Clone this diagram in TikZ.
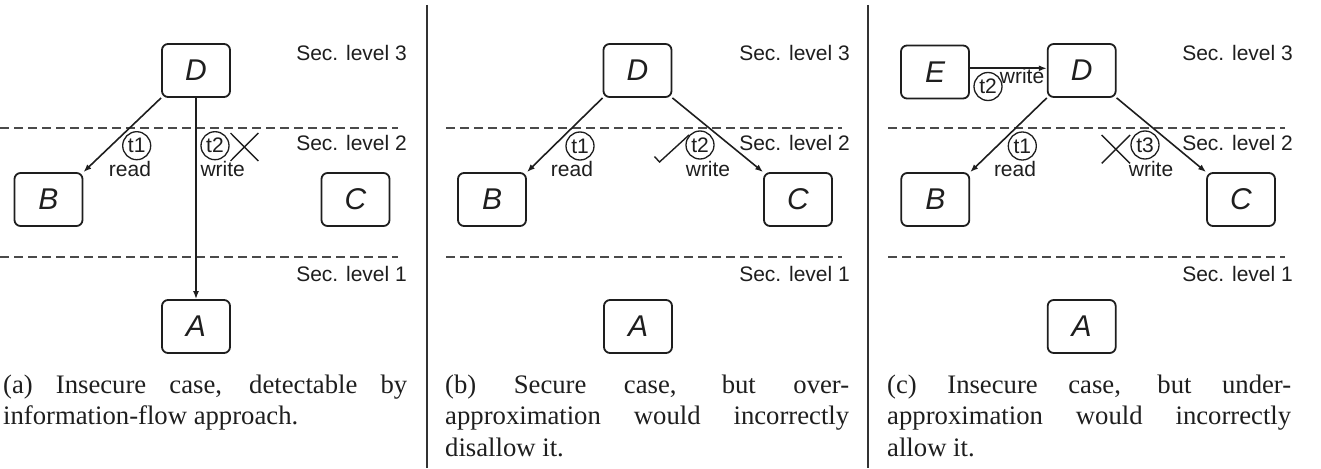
\documentclass[tikz,border=0pt]{standalone}
\usepackage{fontspec}
\setmainfont{Liberation Serif}
\newfontfamily\arialf{Liberation Sans}
\usetikzlibrary{arrows.meta}
\definecolor{ink}{HTML}{1E1E1E}
\definecolor{dashgray}{HTML}{4A4A4A}
\definecolor{sepgray}{HTML}{333333}
\tikzset{
  comp/.style={draw=ink, line width=1.8pt, rounded corners=6pt, minimum width=68pt,
    minimum height=53pt, inner sep=0pt, text=ink,
    font=\arialf\itshape\fontsize{30}{30}\selectfont},
  flow/.style={draw=ink, line width=1.6pt, -{Latex[length=8pt,width=6pt]}},
  level/.style={draw=dashgray, line width=2.2pt, dash pattern=on 9pt off 5pt},
  seclabel/.style={anchor=base east, inner sep=0pt, text=ink,
    font=\arialf\fontsize{21}{25}\selectfont},
  tlabel/.style={circle, draw=ink, line width=1.3pt, minimum size=28pt, inner sep=0pt,
    text=ink, font=\arialf\fontsize{21}{25}\selectfont},
  oplabel/.style={anchor=base, inner sep=0pt, text=ink,
    font=\arialf\fontsize{21}{25}\selectfont},
  verdict/.style={draw=ink, line width=1.4pt},
  separator/.style={draw=sepgray, line width=1.8pt},
  capnode/.style={anchor=base west, inner sep=0pt, text width=404pt, align=justify,
    text=ink, font=\fontsize{26.7}{31.5}\selectfont}
}
\begin{document}
\begin{tikzpicture}[x=1pt,y=-1pt]
\useasboundingbox (0,0) rectangle (1321,468);

% separators
\draw[separator] (427,5) -- (427,468);
\draw[separator] (868,5) -- (868,468);

% ---------- panel (a) ----------
\draw[level] (0,127.7) -- (398,127.7);
\draw[level] (0,257) -- (398,257);
\node[seclabel] (aL3) at (407,61) {Sec. level 3};
\node[seclabel] (aL2) at (407,150.7) {Sec. level 2};
\node[seclabel] (aL1) at (407,281.7) {Sec. level 1};
\node[comp] (aD) at (196,70.5) {D};
\node[comp] (aB) at (48.5,199.5) {B};
\node[comp] (aC) at (355.5,199.5) {C};
\node[comp] (aA) at (196,326.5) {A};
\draw[flow] (aD.south west) -- (aB.north east);
\draw[flow] (aD.south) -- (aA.north);
\node[tlabel] (at1) at (136.7,145.7) {t1};
\node[oplabel] (aread) at (130,176) {read};
\node[tlabel] (at2) at (215,145.7) {t2};
\node[oplabel] (awrite) at (222.7,176) {write};
\draw[verdict] (230.5,133) -- (258.3,161) (230.5,161) -- (258.3,133);
\node[capnode] (acap) at (3,393) {\tolerance=10000\hyphenpenalty=10000
  (a) Insecure case, detectable by\linebreak information-flow approach.};

% ---------- panel (b) ----------
\draw[level] (446,127.7) -- (842,127.7);
\draw[level] (446,257) -- (842,257);
\node[seclabel] (bL3) at (850,61) {Sec. level 3};
\node[seclabel] (bL2) at (850,150.7) {Sec. level 2};
\node[seclabel] (bL1) at (850,281.7) {Sec. level 1};
\node[comp] (bD) at (637.5,70.5) {D};
\node[comp] (bB) at (492,199.5) {B};
\node[comp] (bC) at (798,199.5) {C};
\node[comp] (bA) at (638,326.5) {A};
\draw[flow] (bD.south west) -- (bB.north east);
\draw[flow] (bD.south east) -- (bC.north west);
\node[tlabel] (bt1) at (580,146) {t1};
\node[oplabel] (bread) at (572,176) {read};
\node[tlabel] (bt2) at (700,145) {t2};
\node[oplabel] (bwrite) at (708,176) {write};
\draw[verdict] (654.5,156.5) -- (659.5,162) -- (689,135);
\node[capnode] (bcap) at (445,393) {\tolerance=10000\hyphenpenalty=10000
  (b) Secure case, but over-\linebreak approximation would incorrectly\linebreak disallow it.};

% ---------- panel (c) ----------
\draw[level] (888,127.7) -- (1285,127.7);
\draw[level] (888,257) -- (1285,257);
\node[seclabel] (cL3) at (1293,61) {Sec. level 3};
\node[seclabel] (cL2) at (1293,150.7) {Sec. level 2};
\node[seclabel] (cL1) at (1293,281.7) {Sec. level 1};
\node[comp] (cE) at (935,72) {E};
\node[comp] (cD) at (1081.7,70.5) {D};
\node[comp] (cB) at (935.3,199.5) {B};
\node[comp] (cC) at (1241,199.5) {C};
\node[comp] (cA) at (1081.7,326.5) {A};
\coordinate (cEo) at ([yshift=3.7pt]cE.east);
\draw[flow] (cEo) -- (cEo -| cD.west);
\draw[flow] (cD.south west) -- (cB.north east);
\draw[flow] (cD.south east) -- (cC.north west);
\node[tlabel] (ct2) at (988,86.5) {t2};
\node[oplabel] (cwrite2) at (1022,84) {write};
\node[tlabel] (ct1) at (1022.3,146) {t1};
\node[oplabel] (cread) at (1015,176) {read};
\node[tlabel] (ct3) at (1145,145) {t3};
\node[oplabel] (cwrite3) at (1151,176) {write};
\draw[verdict] (1101.7,135) -- (1130,163.3) (1101.7,163.3) -- (1130,135);
\node[capnode] (ccap) at (887,393) {\tolerance=10000\hyphenpenalty=10000
  (c) Insecure case, but under-\linebreak approximation would incorrectly\linebreak allow it.};
\end{tikzpicture}
\end{document}
